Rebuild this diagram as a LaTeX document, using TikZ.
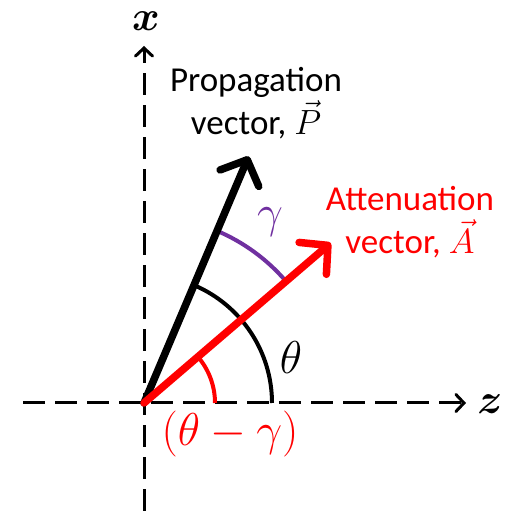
\RequirePackage{fix-cm}
\documentclass[tikz,border=0pt]{standalone}
\usepackage{fontspec}
\usepackage{bm}
\setmainfont{Carlito}
\usetikzlibrary{arrows.meta}
\definecolor{gpurple}{RGB}{112,48,160}
\begin{document}
\begin{tikzpicture}[x=1pt,y=1pt,
  axis/.style={line width=3pt,dash pattern=on 22pt off 10pt,
    -{Straight Barb[length=8pt,width=17pt,line cap=round]}},
  vecarrow/.style={line width=7.5pt,line cap=round,
    -{Straight Barb[length=20pt,width=42pt,line cap=round,line join=round]}},
  anglearc/.style={line width=4pt},
  lbl/.style={font=\fontsize{35}{43}\selectfont,align=center,inner sep=0pt},
  mlbl/.style={font=\fontsize{46}{48}\selectfont,inner sep=0pt},
  axlbl/.style={font=\fontsize{42}{44}\selectfont,inner sep=0pt}]
\useasboundingbox (0,0) rectangle (512,511);
\coordinate (O) at (144,108);
\coordinate (xb) at (144,0);
\coordinate (xt) at (144,465);
\coordinate (zl) at (23,108);
\coordinate (zr) at (466,108);
\draw[axis] (xb) -- (xt);
\draw[axis] (zl) -- (zr);
\node[axlbl] (xlab) at (146,490) {$\bm{x}$};
\node[axlbl] (zlab) at (490,107) {$\bm{z}$};
% angle arcs
\draw[anglearc,black] ([shift={(0:128)}]O) arc[start angle=0,end angle=67,radius=128];
\draw[anglearc,gpurple] ([shift={(41:187)}]O) arc[start angle=41,end angle=67,radius=187];
\draw[anglearc,red] ([shift={(0:71)}]O) arc[start angle=0,end angle=41,radius=71];
% vectors
\coordinate (Ptip) at ([shift={(67:268)}]O);
\coordinate (Atip) at ([shift={(40.6:246)}]O);
\draw[vecarrow,black] (O) -- (Ptip);
\draw[vecarrow,red] (O) -- (Atip);
% labels
\node[lbl] (plab) at (256,408) {Propagation\\vector, $\vec{P}$};
\node[lbl,text=red] (alab) at (410,289) {Attenuation\\vector, $\vec{A}$};
\node[mlbl] (th) at (291,153) {$\theta$};
\node[mlbl,text=gpurple] (ga) at (270,289) {$\gamma$};
\node[mlbl,text=red] (thga) at (230,77) {$(\theta-\gamma)$};
\end{tikzpicture}
\end{document}
